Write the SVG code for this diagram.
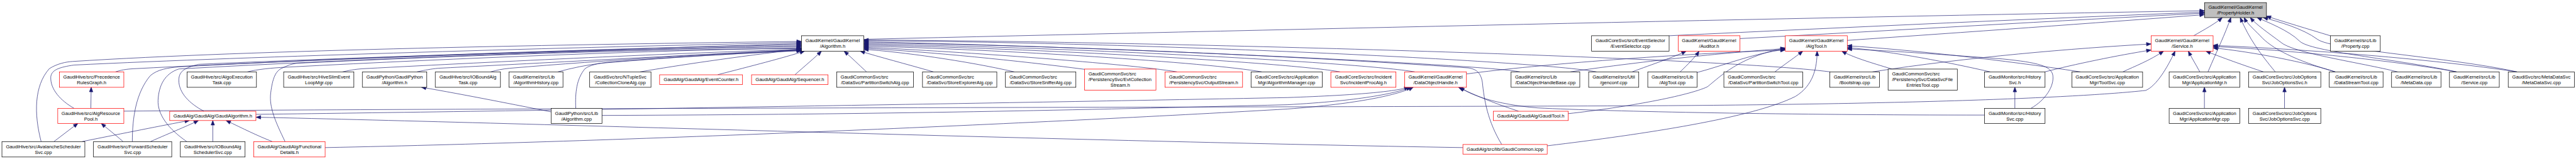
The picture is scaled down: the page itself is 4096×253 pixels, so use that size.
<svg xmlns="http://www.w3.org/2000/svg" width="4096" height="253" viewBox="0 0 4096 253">
<defs>
<marker id="a" markerUnits="userSpaceOnUse" markerWidth="14" markerHeight="11" refX="13" refY="5" orient="auto" overflow="visible"><path d="M0,0 L13,5 L0,10 Z" fill="#191970" stroke="#191970" stroke-width="1"/></marker>
<style>
.n rect{fill:#ffffff;stroke:#000000;stroke-width:1.3}
.r rect{fill:#ffffff;stroke:#ff0000;stroke-width:1.3}
.g rect{fill:#bfbfbf;stroke:#000000;stroke-width:1.3}
text{font-family:"Liberation Sans",Arial,Helvetica,sans-serif;font-size:13.33px;fill:#000000}
.c{text-anchor:middle}
.l{text-anchor:start}
#edges path{fill:none;stroke:#191970;stroke-width:1.2;marker-end:url(#a)}
</style>
</defs>
<rect x="0" y="0" width="4096" height="253" fill="#ffffff"/>
<g transform="scale(0.56865)">
<g id="edges">
<path d="M2415,110 C3500,85 5000,50 6164,30"/>
<path d="M4667,100 C5200,75 5700,52 6164,34"/>
<path d="M4865,108 C5300,85 5750,58 6164,37"/>
<path d="M5165,113 C5500,90 5850,65 6164,41"/>
<path d="M6134,100 C6165,82 6195,66 6214,49"/>
<path d="M6174,201 C6200,140 6222,95 6238,49"/>
<path d="M6362,201 C6320,150 6290,110 6264,49"/>
<path d="M6516,100 C6450,80 6390,62 6337,45"/>
<path d="M6530,201 C6420,170 6350,135 6320,100 C6300,80 6283,65 6275,49"/>
<path d="M6704,201 C6600,175 6420,150 6380,120 C6340,90 6310,70 6292,49"/>
<path d="M6869,201 C6700,165 6460,145 6430,115 C6400,85 6340,62 6311,49"/>
<path d="M7038,201 C6850,160 6520,140 6480,110 C6440,80 6370,60 6328,49"/>
<path d="M115,396 C95,320 95,240 138,192 C160,178 185,173 203,172 C700,140 1600,124 2241,116"/>
<path d="M207,303 C170,282 140,250 142,215 C144,196 165,188 207,182 C700,158 1600,132 2241,119"/>
<path d="M323,201 C345,194 360,193 380,192 C900,165 1700,138 2241,122"/>
<path d="M370,396 C370,330 380,260 420,212 C440,194 470,190 500,187 C1000,160 1700,135 2241,125"/>
<path d="M522,396 C470,360 440,320 442,280 C444,240 460,206 500,193 C1000,165 1700,138 2241,128"/>
<path d="M570,311 C530,290 500,260 500,225 C500,200 515,190 555,180 C1000,160 1700,137 2241,131"/>
<path d="M692,201 C720,194 760,190 800,188 C1300,162 1800,142 2241,134"/>
<path d="M797,396 C770,340 752,300 757,260 C762,220 770,198 790,190 C805,183 815,179 830,177 C1300,155 1800,137 2241,136"/>
<path d="M958,201 C985,195 1000,193 1020,192 C1400,172 1900,148 2241,138"/>
<path d="M1166,201 C1190,196 1205,193 1225,191 C1600,172 2000,150 2241,139"/>
<path d="M1372,201 C1390,196 1405,193 1425,191 C1700,168 2000,150 2241,140"/>
<path d="M1560,201 C1600,190 1640,182 1680,177 C1900,158 2100,148 2241,141"/>
<path d="M1610,303 C1608,260 1612,220 1636,192 C1650,182 1670,178 1700,174 C1900,158 2100,148 2241,142"/>
<path d="M1790,201 C1900,182 2050,160 2241,137"/>
<path d="M2007,209 C2100,185 2190,162 2250,143"/>
<path d="M2223,209 C2250,185 2280,160 2297,143"/>
<path d="M2423,201 C2400,180 2380,160 2360,143"/>
<path d="M2610,201 C2530,178 2460,160 2405,143"/>
<path d="M2836,201 C2700,170 2520,145 2415,138"/>
<path d="M3033,194 C2850,170 2600,145 2415,135"/>
<path d="M3291,201 C3150,178 2700,145 2415,132"/>
<path d="M3528,201 C3380,175 2800,138 2415,129"/>
<path d="M3747,201 C3600,175 2900,135 2415,126"/>
<path d="M3956,201 C3800,175 3000,132 2415,123"/>
<path d="M4199,404 C4160,340 4150,280 4145,230 C4140,200 4125,193 4105,190 C3600,155 2900,125 2415,120"/>
<path d="M4250,201 C4150,180 3000,128 2415,117"/>
<path d="M4464,201 C4300,170 3200,118 2415,114"/>
<path d="M5117,201 C4800,160 3200,115 2415,112"/>
<path d="M4564,201 C4620,180 4680,160 4715,143"/>
<path d="M4698,201 C4720,180 4740,160 4751,143"/>
<path d="M4963,201 C4990,180 5020,160 5041,143"/>
<path d="M4326,408 C4600,375 4900,330 5020,270 C5070,240 5081,190 5081,143"/>
<path d="M5290,193 C5230,175 5180,160 5150,143"/>
<path d="M4745,203 C4830,180 4900,150 4992,138"/>
<path d="M4385,318 C4550,300 4720,268 4774,243 C4810,215 4860,160 4992,134"/>
<path d="M5817,201 C5600,168 5350,140 5165,128"/>
<path d="M5565,201 C5450,175 5300,145 5165,133"/>
<path d="M5679,303 C5720,280 5745,240 5740,210 C5735,185 5700,175 5600,165 C5400,150 5250,140 5165,137"/>
<path d="M4100,207 C4300,180 4700,150 4992,140"/>
<path d="M4391,201 C4600,170 4850,145 4992,136"/>
<path d="M6151,201 C6140,180 6130,165 6119,143"/>
<path d="M6329,201 C6280,185 6210,160 6168,143"/>
<path d="M5936,201 C5970,185 6010,170 6050,143"/>
<path d="M346,311 C1500,302 3500,300 4600,296 C5300,292 5800,275 6000,253 C6030,240 6060,190 6082,143"/>
<path d="M5236,201 C5500,160 5800,135 6015,123"/>
<path d="M5718,201 C5800,180 5920,155 6015,140"/>
<path d="M6869,201 C6700,170 6400,140 6188,130"/>
<path d="M6530,201 C6450,175 6300,145 6188,134"/>
<path d="M7038,201 C6800,165 6450,138 6188,127"/>
<path d="M230,396 C350,372 450,352 530,337"/>
<path d="M421,396 C480,370 530,350 555,337"/>
<path d="M595,396 L595,337"/>
<path d="M761,396 C720,380 680,360 632,337"/>
<path d="M4091,413 C3000,395 1500,345 716,328"/>
<path d="M151,396 L218,345"/>
<path d="M344,396 C320,375 300,360 283,345"/>
<path d="M254,303 L255,244"/>
<path d="M1541,313 C1450,295 1300,265 1178,244"/>
<path d="M716,320 C1500,310 3000,285 3600,273 C3800,266 3900,256 3940,244"/>
<path d="M1683,323 C2500,320 3000,308 3600,293 C3800,282 3900,262 3946,244"/>
<path d="M909,413 C1800,395 3000,340 3600,305 C3800,290 3910,265 3952,244"/>
<path d="M4246,311 C4180,290 4120,265 4078,244"/>
<path d="M5549,322 C5000,322 4500,312 4300,302 C4180,292 4110,265 4082,244"/>
<path d="M5634,303 L5634,244"/>
<path d="M6164,303 L6164,244"/>
<path d="M6388,303 L6388,244"/>
</g>
<g id="n_ph" class="g"><rect x="6164.5" y="7.3" width="173" height="42"/><text class="c" x="6251" y="25.3">GaudiKernel/GaudiKernel</text><text class="c" x="6251" y="41.3">/PropertyHolder.h</text></g>
<g id="n_aval" class="n"><rect x="5.4" y="396.3" width="231.9" height="43"/><text class="c" x="121.35" y="414.3">GaudiHive/src/AvalancheScheduler</text><text class="c" x="121.35" y="430.3">Svc.cpp</text></g>
<g id="n_fwd" class="n"><rect x="261.4" y="396.3" width="218.8" height="43"/><text class="c" x="370.8" y="414.3">GaudiHive/src/ForwardScheduler</text><text class="c" x="370.8" y="430.3">Svc.cpp</text></g>
<g id="n_iobs" class="n"><rect x="504.3" y="396.3" width="181" height="43"/><text class="c" x="594.8" y="414.3">GaudiHive/src/IOBoundAlg</text><text class="c" x="594.8" y="430.3">SchedulerSvc.cpp</text></g>
<g id="n_fd" class="r"><rect x="709.4" y="396.3" width="199.8" height="43"/><text class="c" x="809.3" y="414.3">GaudiAlg/GaudiAlg/Functional</text><text class="c" x="809.3" y="430.3">Details.h</text></g>
<g id="n_arp" class="r"><rect x="161.5" y="303.3" width="184.8" height="42"/><text class="c" x="253.9" y="321.3">GaudiHive/src/AlgResource</text><text class="c" x="253.9" y="337.3">Pool.h</text></g>
<g id="n_prec" class="r"><rect x="166.1" y="201.3" width="180.2" height="43"/><text class="c" x="256.2" y="219.3">GaudiHive/src/Precedence</text><text class="c" x="256.2" y="235.3">RulesGraph.h</text></g>
<g id="n_galg" class="r"><rect x="474.5" y="311.3" width="241.1" height="26"/><text class="c" x="595.05" y="328.8">GaudiAlg/GaudiAlg/GaudiAlgorithm.h</text></g>
<g id="n_aet" class="n"><rect x="523.1" y="201.3" width="194" height="43"/><text class="c" x="620.1" y="219.3">GaudiHive/src/AlgoExecution</text><text class="c" x="620.1" y="235.3">Task.cpp</text></g>
<g id="n_hive" class="n"><rect x="793.2" y="201.3" width="196.4" height="43"/><text class="c" x="891.4" y="219.3">GaudiHive/src/HiveSlimEvent</text><text class="c" x="891.4" y="235.3">LoopMgr.cpp</text></g>
<g id="n_gpalgh" class="n"><rect x="1013.3" y="201.3" width="180.2" height="43"/><text class="c" x="1103.4" y="219.3">GaudiPython/GaudiPython</text><text class="c" x="1103.4" y="235.3">/Algorithm.h</text></g>
<g id="n_iobt" class="n"><rect x="1217.2" y="201.3" width="182.2" height="43"/><text class="c" x="1308.3" y="219.3">GaudiHive/src/IOBoundAlg</text><text class="c" x="1308.3" y="235.3">Task.cpp</text></g>
<g id="n_ahist" class="n"><rect x="1423.1" y="201.3" width="151.1" height="43"/><text class="l" x="1434.1" y="219.3">GaudiKernel/src/Lib</text><text class="c" x="1498.65" y="235.3">/AlgorithmHistory.cpp</text></g>
<g id="n_gpalgcpp" class="n"><rect x="1541" y="303.3" width="142.3" height="42"/><text class="c" x="1612.15" y="321.3">GaudiPython/src/Lib</text><text class="c" x="1612.15" y="337.3">/Algorithm.cpp</text></g>
<g id="n_ccl" class="n"><rect x="1648.9" y="201.3" width="171.4" height="43"/><text class="l" x="1659.9" y="219.3">GaudiSvc/src/NTupleSvc</text><text class="c" x="1734.6" y="235.3">/CollectionCloneAlg.cpp</text></g>
<g id="n_alg" class="n"><rect x="2241.2" y="100" width="174.1" height="43.3"/><text class="c" x="2328.25" y="118">GaudiKernel/GaudiKernel</text><text class="c" x="2328.25" y="134">/Algorithm.h</text></g>
<g id="n_evc" class="r"><rect x="1844.4" y="209.3" width="231.9" height="27"/><text class="c" x="1960.35" y="226.8">GaudiAlg/GaudiAlg/EventCounter.h</text></g>
<g id="n_seq" class="r"><rect x="2101.5" y="209.3" width="213.9" height="27"/><text class="c" x="2208.45" y="226.8">GaudiAlg/GaudiAlg/Sequencer.h</text></g>
<g id="n_psa" class="n"><rect x="2339.5" y="201.3" width="214.7" height="43"/><text class="l" x="2350.5" y="219.3">GaudiCommonSvc/src</text><text class="c" x="2446.85" y="235.3">/DataSvc/PartitionSwitchAlg.cpp</text></g>
<g id="n_sea" class="n"><rect x="2579.5" y="201.3" width="207.8" height="43"/><text class="l" x="2590.5" y="219.3">GaudiCommonSvc/src</text><text class="c" x="2683.4" y="235.3">/DataSvc/StoreExplorerAlg.cpp</text></g>
<g id="n_ssa" class="n"><rect x="2811.4" y="201.3" width="197" height="43"/><text class="l" x="2822.4" y="219.3">GaudiCommonSvc/src</text><text class="c" x="2909.9" y="235.3">/DataSvc/StoreSnifferAlg.cpp</text></g>
<g id="n_ecs" class="r"><rect x="3032.5" y="193.3" width="199.8" height="59"/><text class="l" x="3043.5" y="211.3">GaudiCommonSvc/src</text><text class="l" x="3043.5" y="227.3">/PersistencySvc/EvtCollection</text><text class="c" x="3132.4" y="243.3">Stream.h</text></g>
<g id="n_os" class="r"><rect x="3257.5" y="201.3" width="217" height="43"/><text class="l" x="3268.5" y="219.3">GaudiCommonSvc/src</text><text class="c" x="3366" y="235.3">/PersistencySvc/OutputStream.h</text></g>
<g id="n_amgr" class="n"><rect x="3498.2" y="201.3" width="199" height="43"/><text class="c" x="3597.7" y="219.3">GaudiCoreSvc/src/Application</text><text class="c" x="3597.7" y="235.3">Mgr/AlgorithmManager.cpp</text></g>
<g id="n_ipa" class="r"><rect x="3721.3" y="201.3" width="182.1" height="43"/><text class="c" x="3812.35" y="219.3">GaudiCoreSvc/src/Incident</text><text class="c" x="3812.35" y="235.3">Svc/IncidentProcAlg.h</text></g>
<g id="n_doh" class="r"><rect x="3927.6" y="201.3" width="172.9" height="43"/><text class="c" x="4014.05" y="219.3">GaudiKernel/GaudiKernel</text><text class="c" x="4014.05" y="235.3">/DataObjectHandle.h</text></g>
<g id="n_gtool" class="r"><rect x="4175.5" y="311.3" width="209.7" height="26"/><text class="c" x="4280.35" y="328.8">GaudiAlg/GaudiAlg/GaudiTool.h</text></g>
<g id="n_gci" class="r"><rect x="4090.6" y="404.3" width="235.7" height="27"/><text class="c" x="4208.45" y="421.8">GaudiAlg/src/lib/GaudiCommon.icpp</text></g>
<g id="n_evsel" class="n"><rect x="4450.3" y="100" width="216.9" height="43.3"/><text class="c" x="4558.75" y="118">GaudiCoreSvc/src/EventSelector</text><text class="c" x="4558.75" y="134">/EventSelector.cpp</text></g>
<g id="n_aud" class="r"><rect x="4692.5" y="100" width="172.9" height="43.3"/><text class="c" x="4778.95" y="118">GaudiKernel/GaudiKernel</text><text class="c" x="4778.95" y="134">/Auditor.h</text></g>
<g id="n_dohb" class="n"><rect x="4225.3" y="201.3" width="192.1" height="43"/><text class="l" x="4236.3" y="219.3">GaudiKernel/src/Lib</text><text class="c" x="4321.35" y="235.3">/DataObjectHandleBase.cpp</text></g>
<g id="n_genconf" class="n"><rect x="4442.2" y="201.3" width="140.1" height="43"/><text class="c" x="4512.25" y="219.3">GaudiKernel/src/Util</text><text class="c" x="4512.25" y="235.3">/genconf.cpp</text></g>
<g id="n_algtoolcpp" class="n"><rect x="4607.5" y="201.3" width="137.8" height="43"/><text class="c" x="4676.4" y="219.3">GaudiKernel/src/Lib</text><text class="c" x="4676.4" y="235.3">/AlgTool.cpp</text></g>
<g id="n_algtool" class="r"><rect x="4992.1" y="100" width="173.3" height="43.3"/><text class="c" x="5078.75" y="118">GaudiKernel/GaudiKernel</text><text class="c" x="5078.75" y="134">/AlgTool.h</text></g>
<g id="n_pst" class="n"><rect x="4820.3" y="201.3" width="220.8" height="43"/><text class="l" x="4831.3" y="219.3">GaudiCommonSvc/src</text><text class="c" x="4930.7" y="235.3">/DataSvc/PartitionSwitchTool.cpp</text></g>
<g id="n_boot" class="n"><rect x="5116.5" y="201.3" width="138.9" height="43"/><text class="c" x="5185.95" y="219.3">GaudiKernel/src/Lib</text><text class="c" x="5185.95" y="235.3">/Bootstrap.cpp</text></g>
<g id="n_dsfe" class="n"><rect x="5279.5" y="193.3" width="193.6" height="59"/><text class="l" x="5290.5" y="211.3">GaudiCommonSvc/src</text><text class="l" x="5290.5" y="227.3">/PersistencySvc/DataSvcFile</text><text class="c" x="5376.3" y="243.3">EntriesTool.cpp</text></g>
<g id="n_hsvch" class="n"><rect x="5549.2" y="201.3" width="169.2" height="43"/><text class="c" x="5633.8" y="219.3">GaudiMonitor/src/History</text><text class="c" x="5633.8" y="235.3">Svc.h</text></g>
<g id="n_hsvccpp" class="n"><rect x="5549.2" y="303.3" width="169.2" height="42"/><text class="c" x="5633.8" y="321.3">GaudiMonitor/src/History</text><text class="c" x="5633.8" y="337.3">Svc.cpp</text></g>
<g id="n_toolsvc" class="n"><rect x="5793.4" y="201.3" width="197.8" height="43"/><text class="c" x="5892.3" y="219.3">GaudiCoreSvc/src/Application</text><text class="c" x="5892.3" y="235.3">Mgr/ToolSvc.cpp</text></g>
<g id="n_svc" class="r"><rect x="6015.3" y="100" width="173" height="43.3"/><text class="c" x="6101.8" y="118">GaudiKernel/GaudiKernel</text><text class="c" x="6101.8" y="134">/Service.h</text></g>
<g id="n_appmgrh" class="n"><rect x="6065.4" y="201.3" width="197.9" height="43"/><text class="c" x="6164.35" y="219.3">GaudiCoreSvc/src/Application</text><text class="c" x="6164.35" y="235.3">Mgr/ApplicationMgr.h</text></g>
<g id="n_appmgrcpp" class="n"><rect x="6065.4" y="303.3" width="197.9" height="42"/><text class="c" x="6164.35" y="321.3">GaudiCoreSvc/src/Application</text><text class="c" x="6164.35" y="337.3">Mgr/ApplicationMgr.cpp</text></g>
<g id="n_josh" class="n"><rect x="6287.4" y="201.3" width="202" height="43"/><text class="c" x="6388.4" y="219.3">GaudiCoreSvc/src/JobOptions</text><text class="c" x="6388.4" y="235.3">Svc/JobOptionsSvc.h</text></g>
<g id="n_joscpp" class="n"><rect x="6287.4" y="303.3" width="202" height="42"/><text class="c" x="6388.4" y="321.3">GaudiCoreSvc/src/JobOptions</text><text class="c" x="6388.4" y="337.3">Svc/JobOptionsSvc.cpp</text></g>
<g id="n_propcpp" class="n"><rect x="6516.2" y="100" width="139.6" height="43.3"/><text class="c" x="6586" y="118">GaudiKernel/src/Lib</text><text class="c" x="6586" y="134">/Property.cpp</text></g>
<g id="n_dst" class="n"><rect x="6513.1" y="201.3" width="150.4" height="43"/><text class="c" x="6588.3" y="219.3">GaudiKernel/src/Lib</text><text class="c" x="6588.3" y="235.3">/DataStreamTool.cpp</text></g>
<g id="n_md" class="n"><rect x="6687.3" y="201.3" width="138.1" height="43"/><text class="c" x="6756.35" y="219.3">GaudiKernel/src/Lib</text><text class="c" x="6756.35" y="235.3">/MetaData.cpp</text></g>
<g id="n_svccpp" class="n"><rect x="6849.2" y="201.3" width="139.3" height="43"/><text class="c" x="6918.85" y="219.3">GaudiKernel/src/Lib</text><text class="c" x="6918.85" y="235.3">/Service.cpp</text></g>
<g id="n_mds" class="n"><rect x="7013.5" y="201.3" width="185.3" height="43"/><text class="c" x="7106.15" y="219.3">GaudiSvc/src/MetaDataSvc</text><text class="c" x="7106.15" y="235.3">/MetaDataSvc.cpp</text></g>
</g>
</svg>
